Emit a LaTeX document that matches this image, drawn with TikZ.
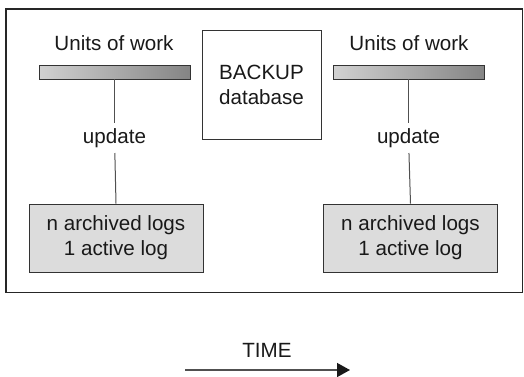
\documentclass[tikz,border=0pt]{standalone}
\usepackage{fontspec}
\setmainfont{Liberation Sans}
\usetikzlibrary{arrows.meta}
\definecolor{linegray}{HTML}{505050}
\definecolor{boxgray}{HTML}{DCDCDC}
\begin{document}
\begin{tikzpicture}[x=0.5pt, y=-0.5pt,
        every node/.style={font=\fontsize{10.3}{12.5}\selectfont, text=black!90},
        barbox/.style={draw=black!80, left color=black!18, right color=black!48, minimum width=75.5pt, minimum height=7pt, inner sep=0pt},
        logbox/.style={draw=black!80, fill=boxgray, minimum width=87pt, minimum height=34pt, align=center},
        link/.style={draw=linegray, line width=0.5pt}]
    \useasboundingbox (0, 0) rectangle (524, 376);
    \draw[black!85, line width=0.6pt] (6, 9) rectangle (522.5, 292.5);

    \draw (114, 43) node (units1) {Units of work};
    \draw (114.5, 72) node[barbox] (bar1) {};
    \draw (114.5, 138) node[inner sep=2.5pt] (upd1) {update};
    \draw (116, 238) node[logbox] (logs1) {n archived logs\\1 active log};

    \draw (261.5, 84.5) node[draw=black!80, minimum width=59.5pt, minimum height=54.5pt, align=center] (backup) {BACKUP\\database};

    \draw (409, 43) node (units2) {Units of work};
    \draw (408.5, 72) node[barbox] (bar2) {};
    \draw (408.5, 138) node[inner sep=2.5pt] (upd2) {update};
    \draw (410.5, 238) node[logbox] (logs2) {n archived logs\\1 active log};

    \draw[link] (bar1) -- (upd1);
    \draw[link] (upd1) -- (logs1 |- logs1.north);
    \draw[link] (bar2) -- (upd2);
    \draw[link] (upd2) -- (logs2 |- logs2.north);

    \draw (267, 350) node (time) {TIME};
    \coordinate (t0) at (185, 370);
    \coordinate (t1) at (350, 370);
    \draw[linegray, line width=0.7pt, -{Triangle[length=6.5pt, width=7pt, black!90]}] (t0) -- (t1);
\end{tikzpicture}
\end{document}
